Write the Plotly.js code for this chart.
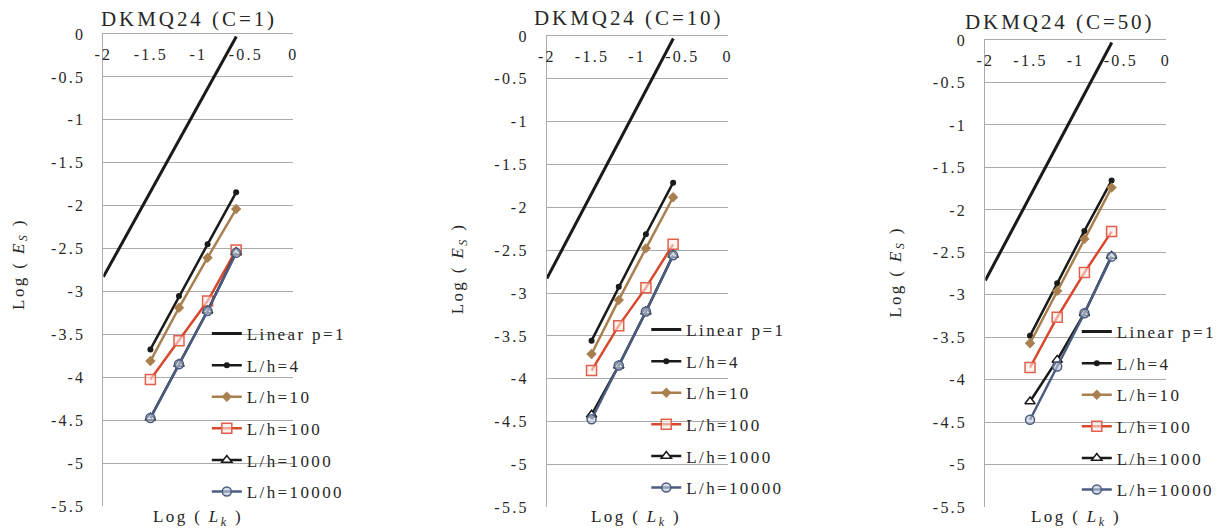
<!DOCTYPE html>
<html>
<head>
<meta charset="utf-8">
<script src="https://cdn.plot.ly/plotly-3.0.1.min.js"></script>
<style>
  html, body { margin: 0; padding: 0; background: #fff; }
  svg text { letter-spacing: 0.14em; }
</style>
</head>
<body>
<div id="chart" style="width:1221px;height:531px;"></div>
<script>
// ---- data ----
const panelTitles = ["DKMQ24 (C=1)", "DKMQ24 (C=10)", "DKMQ24 (C=50)"];
const seriesNames = ["Linear p=1", "L/h=4", "L/h=10", "L/h=100", "L/h=1000", "L/h=10000"];

const xLk = [-1.505, -1.204, -0.903, -0.602];

const linX = [-2.0, -0.6];
const linY = [-2.83, -0.03];

const c1_h4     = [-3.675, -3.054, -2.451, -1.845];
const c1_h10    = [-3.811, -3.190, -2.607, -2.040];
const c1_h100   = [-4.025, -3.574, -3.112, -2.517];
const c1_h1000  = [-4.472, -3.846, -3.225, -2.544];
const c1_h10000 = [-4.475, -3.848, -3.228, -2.550];

const c10_h4     = [-3.555, -2.925, -2.314, -1.712];
const c10_h10    = [-3.711, -3.080, -2.478, -1.882];
const c10_h100   = [-3.905, -3.380, -2.937, -2.431];
const c10_h1000  = [-4.420, -3.847, -3.217, -2.555];
const c10_h10000 = [-4.473, -3.845, -3.215, -2.560];

const c50_h4     = [-3.482, -2.863, -2.247, -1.655];
const c50_h10    = [-3.569, -2.953, -2.341, -1.737];
const c50_h100   = [-3.855, -3.263, -2.737, -2.255];
const c50_h1000  = [-4.255, -3.765, -3.216, -2.541];
const c50_h10000 = [-4.470, -3.843, -3.216, -2.550];

const xTickVals = [-2, -1.5, -1, -0.5, 0];
const xTickText = ["-2", "-1.5", "-1", "-0.5", "0"];
const yTickVals = [0, -0.5, -1, -1.5, -2, -2.5, -3, -3.5, -4, -4.5, -5, -5.5];
const yTickText = ["0", "-0.5", "-1", "-1.5", "-2", "-2.5", "-3", "-3.5", "-4", "-4.5", "-5", "-5.5"];

// ---- styling ----
const W = 1221, H = 531;
const FONT = "'Liberation Serif', 'Times New Roman', Times, serif";
const TXT = "#262626";
const GRID = "#ababab";

const panels = [
  { series: [c1_h4, c1_h10, c1_h100, c1_h1000, c1_h10000],
    xd: [104, 295], yd: [34, 506], legX: 208, legY: 316,
    title: [190, 19], ytl: [20, 264], xtl: [199, 518] },
  { series: [c10_h4, c10_h10, c10_h100, c10_h1000, c10_h10000],
    xd: [550, 731.7], yd: [36, 507.3], legX: 650, legY: 312,
    title: [632, 18], ytl: [462, 268], xtl: [640, 518] },
  { series: [c50_h4, c50_h10, c50_h100, c50_h1000, c50_h10000],
    xd: [991, 1172.7], yd: [40, 507.3], legX: 1083, legY: 314,
    title: [1066, 22], ytl: [902, 272], xtl: [1082, 518] }
];

const styles = [
  { color: "#1a1a1a", width: 3, mode: "lines", marker: {} },
  { color: "#1a1a1a", width: 2.5, mode: "lines+markers",
    marker: { symbol: "circle", size: 6, color: "#1a1a1a" } },
  { color: "#a97f4f", width: 2.5, mode: "lines+markers",
    marker: { symbol: "diamond", size: 8, color: "#a97f4f" } },
  { color: "#d8482d", width: 2.5, mode: "lines+markers",
    marker: { symbol: "square", size: 10, color: "rgba(255,235,230,0.6)", line: { color: "#e0604c", width: 1.5 } } },
  { color: "#1a1a1a", width: 2.5, mode: "lines+markers",
    marker: { symbol: "triangle-up", size: 9, color: "#ffffff", line: { color: "#1a1a1a", width: 1.5 } } },
  { color: "#4b5c80", width: 2.5, mode: "lines+markers",
    marker: { symbol: "circle", size: 9, color: "rgba(190,200,215,0.6)", line: { color: "#4b5c80", width: 1.5 } } }
];

const traces = [];
const layout = {
  width: W, height: H,
  margin: { l: 0, r: 0, t: 0, b: 0 },
  paper_bgcolor: "#ffffff", plot_bgcolor: "#ffffff",
  font: { family: FONT, size: 15, color: TXT },
  showlegend: true,
  annotations: []
};

panels.forEach((p, i) => {
  const k = i === 0 ? "" : String(i + 1);
  const xa = "x" + k, ya = "y" + k;
  const legName = i === 0 ? "legend" : "legend" + (i + 1);
  const allY = [linY].concat(p.series);
  allY.forEach((yv, j) => {
    const s = styles[j];
    traces.push({
      type: "scatter",
      x: j === 0 ? linX : xLk,
      y: yv,
      name: seriesNames[j],
      mode: s.mode,
      line: { color: s.color, width: s.width },
      marker: s.marker,
      xaxis: xa, yaxis: ya,
      legend: legName,
      legendgroup: "p" + i + "_" + j,
      cliponaxis: true
    });
  });

  layout["xaxis" + k] = {
    domain: [p.xd[0] / W, p.xd[1] / W],
    anchor: ya,
    range: [-2, 0],
    side: "top",
    ticklabelposition: "inside",
    ticklabeloverflow: "allow",
    tickmode: "array", tickvals: xTickVals, ticktext: xTickText,
    ticks: "inside", ticklen: 15, tickcolor: "rgba(0,0,0,0)",
    showgrid: false, zeroline: false,
    showline: true, linecolor: GRID, linewidth: 1,
    tickfont: { family: FONT, size: 16, color: TXT },
    fixedrange: true
  };
  layout["yaxis" + k] = {
    domain: [1 - p.yd[1] / H, 1 - p.yd[0] / H],
    anchor: xa,
    range: [-5.5, 0],
    tickmode: "array", tickvals: yTickVals, ticktext: yTickText,
    ticks: "outside", ticklen: 14, tickcolor: "rgba(0,0,0,0)",
    showgrid: true, gridcolor: GRID, gridwidth: 1,
    zeroline: false,
    showline: true, linecolor: GRID, linewidth: 1,
    tickfont: { family: FONT, size: 16, color: TXT },
    fixedrange: true
  };
  layout[legName] = {
    x: p.legX / W, y: 1 - p.legY / H,
    xanchor: "left", yanchor: "top",
    bgcolor: "rgba(0,0,0,0)",
    borderwidth: 0,
    traceorder: "grouped",
    tracegroupgap: 6.5,
    font: { family: FONT, size: 17, color: TXT }
  };

  layout.annotations.push({
    text: panelTitles[i], xref: "paper", yref: "paper",
    x: p.title[0] / W, y: 1 - p.title[1] / H,
    xanchor: "center", yanchor: "middle", showarrow: false,
    font: { family: FONT, size: 21, color: TXT }
  });
  layout.annotations.push({
    text: "Log ( <i>E</i><sub><i>S</i></sub> )", xref: "paper", yref: "paper",
    x: p.ytl[0] / W, y: 1 - p.ytl[1] / H, textangle: -90,
    xanchor: "center", yanchor: "middle", showarrow: false,
    font: { family: FONT, size: 17, color: TXT }
  });
  layout.annotations.push({
    text: "Log ( <i>L</i><sub><i>k</i></sub> )", xref: "paper", yref: "paper",
    x: p.xtl[0] / W, y: 1 - p.xtl[1] / H,
    xanchor: "center", yanchor: "middle", showarrow: false,
    font: { family: FONT, size: 17, color: TXT }
  });
});

Plotly.newPlot("chart", traces, layout, { displayModeBar: false, staticPlot: true });
</script>
</body>
</html>
